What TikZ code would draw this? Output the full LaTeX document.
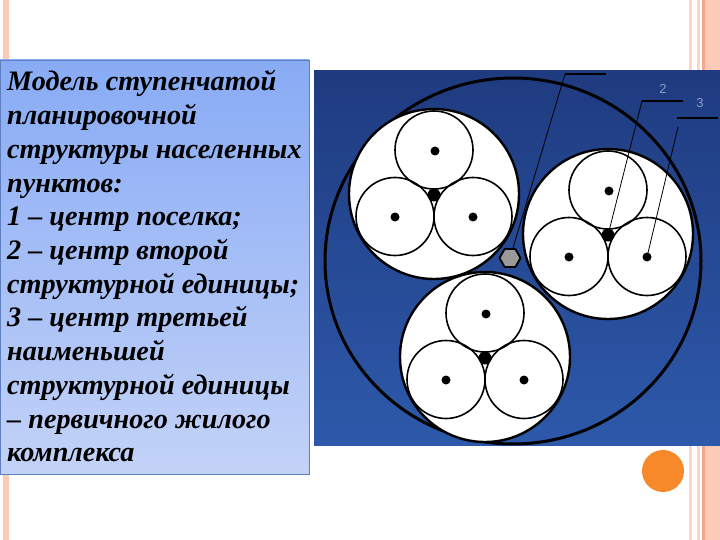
\documentclass[tikz,border=0pt]{standalone}
\usepackage{fontspec}
\setmainfont{Liberation Serif}
\newfontfamily\labelfont{Liberation Sans}
\usetikzlibrary{shapes.geometric}
\definecolor{panelTop}{HTML}{1F3B80}
\definecolor{panelBot}{HTML}{2D59AA}
\definecolor{boxTop}{HTML}{88ABF5}
\definecolor{boxBot}{HTML}{C3D2F7}
\definecolor{boxEdge}{HTML}{5E7FBE}
\definecolor{stripeA}{HTML}{F9D5CB}
\definecolor{stripeB}{HTML}{F4A58A}
\definecolor{stripeC}{HTML}{FBCBB8}
\definecolor{orangeDot}{HTML}{F7892B}
\definecolor{numGray}{HTML}{8D9CC4}
\definecolor{hexGray}{HTML}{9A9A9A}
\tikzset{
  txt/.style={anchor=base west, inner sep=0pt, font=\fontsize{28.2}{32}\selectfont\bfseries\itshape},
  bigring/.style={draw=black, line width=3pt},
  midring/.style={draw=black, fill=white, line width=2.4pt},
  smallring/.style={draw=black, line width=1.6pt},
  dot/.style={circle, fill=black, inner sep=0pt, minimum size=9pt},
  hubdot/.style={circle, fill=black, inner sep=0pt, minimum size=13pt},
  hexnode/.style={regular polygon, regular polygon sides=6, draw=black, line width=1.8pt, fill=hexGray, inner sep=0pt, minimum size=21pt},
  leader/.style={draw=black, line width=0.8pt},
  tick/.style={draw=black, line width=2.6pt},
  num/.style={font=\labelfont\fontsize{13}{13}\selectfont, text=numGray, inner sep=0pt}
}
\begin{document}
\begin{tikzpicture}[x=1pt,y=-1pt]
\useasboundingbox (0,0) rectangle (720,540);
\fill[white] (0,0) rectangle (720,540);
% decorative stripes
\fill[stripeC] (3,0) rectangle (9,540);
\fill[stripeA] (689,0) rectangle (692,540);
\fill[stripeA] (697,0) rectangle (700,540);
\fill[stripeB] (702,0) rectangle (705,540);
\fill[stripeC] (705,0) rectangle (720,540);
% text box
\draw[boxEdge, line width=0.8pt, top color=boxTop, bottom color=boxBot] (0,60) rectangle (309,474);
\node[txt] (l1) at (7,91) {Модель ступенчатой};
\node[txt] (l2) at (7,124.7) {планировочной};
\node[txt] (l3) at (7,158.4) {структуры населенных};
\node[txt] (l4) at (7,192.1) {пунктов:};
\node[txt] (l5) at (7,225.8) {1 – центр поселка;};
\node[txt] (l6) at (7,259.5) {2 – центр второй};
\node[txt] (l7) at (7,293.2) {структурной единицы;};
\node[txt] (l8) at (7,326.9) {3 – центр третьей};
\node[txt] (l9) at (7,360.6) {наименьшей};
\node[txt] (l10) at (7,394.3) {структурной единицы};
\node[txt] (l11) at (7,428) {– первичного жилого};
\node[txt] (l12) at (7,461.7) {комплекса};
% blue panel
\fill[top color=panelTop, bottom color=panelBot] (314,71) rectangle (720,445);
\begin{scope}
\clip (314,71) rectangle (720,445);
\draw[bigring] (513,261) ellipse[x radius=188pt, y radius=183pt];
\end{scope}
% groups
\foreach \cx/\cy/\g in {434/194/A, 608/234/B, 485/357/C}{
  \draw[midring] (\cx,\cy) circle[radius=85pt];
  \draw[smallring] (\cx,\cy-44) circle[radius=39pt];
  \draw[smallring] (\cx-39,\cy+22.5) circle[radius=39pt];
  \draw[smallring] (\cx+39,\cy+22.5) circle[radius=39pt];
  \node[dot] (\g t) at (\cx+1,\cy-43) {};
  \node[dot] (\g l) at (\cx-39,\cy+23) {};
  \node[dot] (\g r) at (\cx+39,\cy+23) {};
  \node[hubdot] (\g c) at (\cx,\cy+1) {};
}
% labels and leaders
\coordinate (t1a) at (565,74);
\coordinate (t1b) at (606,74);
\coordinate (t2a) at (642,101);
\coordinate (t2b) at (683,101);
\coordinate (t3a) at (677,118);
\coordinate (t3b) at (718,118);
\coordinate (s3) at (678,127);
\coordinate (hubpos) at (510,258);
\draw[tick] (t1a) -- (t1b);
\draw[tick] (t2a) -- (t2b);
\draw[tick] (t3a) -- (t3b);
\draw[leader] (t1a) -- (hubpos);
\draw[leader] (t2a) -- (Bc.center);
\draw[leader] (s3) -- (Br.center);
\node[hexnode] (hub) at (hubpos) {};
\node[num] (n2) at (663,89) {2};
\node[num] (n3) at (700,103) {3};
% orange circle
\node[circle, fill=orangeDot, inner sep=0pt, minimum size=42pt] (od) at (663,471) {};
\end{tikzpicture}
\end{document}
